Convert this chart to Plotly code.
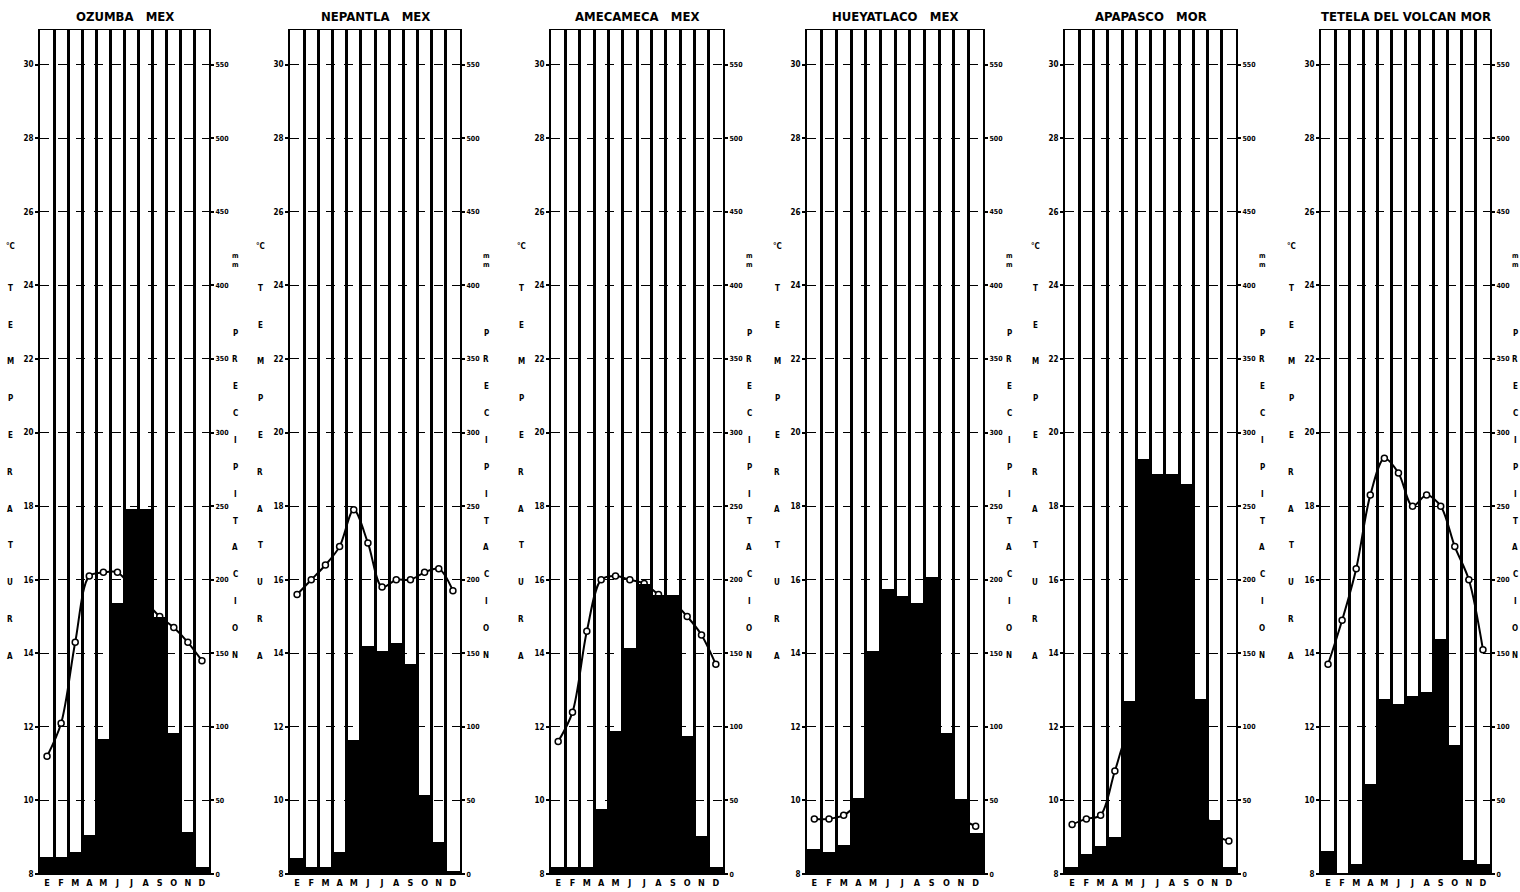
import plotly.graph_objects as go
from plotly.subplots import make_subplots

# ---------------- data ----------------
months = ["E", "F", "M", "A", "M", "J", "J", "A", "S", "O", "N", "D"]

stations = ["OZUMBA\u00a0\u00a0\u00a0MEX", "NEPANTLA\u00a0\u00a0\u00a0MEX", "AMECAMECA\u00a0\u00a0\u00a0MEX",
            "HUEYATLACO\u00a0\u00a0\u00a0MEX", "APAPASCO\u00a0\u00a0\u00a0MOR", "TETELA DEL VOLCAN MOR"]

# monthly precipitation (mm)
precip_ozumba = [12, 12, 15, 27, 92, 184, 248, 248, 175, 96, 29, 5]
precip_nepantla = [11, 5, 5, 15, 91, 155, 152, 157, 143, 54, 22, 2]
precip_amecameca = [5, 5, 5, 44, 97, 154, 197, 190, 190, 94, 26, 5]
precip_hueyatlaco = [17, 15, 20, 52, 152, 194, 189, 184, 202, 96, 51, 28]
precip_apapasco = [5, 14, 19, 25, 118, 282, 272, 272, 265, 119, 37, 5]
precip_tetela = [16, 1, 7, 61, 119, 116, 121, 124, 160, 88, 10, 7]

# monthly mean temperature (°C)
temp_ozumba = [11.2, 12.1, 14.3, 16.1, 16.2, 16.2, 15.8, 15.4, 15.0, 14.7, 14.3, 13.8]
temp_nepantla = [15.6, 16.0, 16.4, 16.9, 17.9, 17.0, 15.8, 16.0, 16.0, 16.2, 16.3, 15.7]
temp_amecameca = [11.6, 12.4, 14.6, 16.0, 16.1, 16.0, 15.9, 15.6, 15.4, 15.0, 14.5, 13.7]
temp_hueyatlaco = [9.5, 9.5, 9.6, 9.9, 10.2, 10.3, 10.2, 10.2, 10.0, 9.8, 9.5, 9.3]
temp_apapasco = [9.35, 9.5, 9.6, 10.8, 11.9, 12.2, 12.0, 11.8, 11.2, 10.2, 9.1, 8.9]
temp_tetela = [13.7, 14.9, 16.3, 18.3, 19.3, 18.9, 18.0, 18.3, 18.0, 16.9, 16.0, 14.1]

precip_ticks = [0, 50, 100, 150, 200, 250, 300, 350, 400, 450, 500, 550]
temp_ticks = [8, 10, 12, 14, 16, 18, 20, 22, 24, 26, 28, 30]

precip_all = [precip_ozumba, precip_nepantla, precip_amecameca,
              precip_hueyatlaco, precip_apapasco, precip_tetela]
temp_all = [temp_ozumba, temp_nepantla, temp_amecameca,
            temp_hueyatlaco, temp_apapasco, temp_tetela]

# ---------------- layout ----------------
W, H = 1520, 892
panel_px = [(40, 209), (290, 460), (551, 723), (807, 983), (1065, 1236), (1321, 1490)]
y_bottom_px, y_top_px = 879, 30
grid_top_px = 65
grid_step_px = (y_bottom_px - grid_top_px) / 11.0
units = (y_bottom_px - y_top_px) / grid_step_px
precip_range = [0, 50 * units]
temp_range = [8, 8 + 2 * units]
ydom = [(H - y_bottom_px) / H, (H - y_top_px) / H]

FONT = "Liberation Sans Narrow, DejaVu Sans Condensed, Arial Narrow, sans-serif"

fig = make_subplots(rows=1, cols=6, specs=[[{"secondary_y": True}] * 6])
x = list(range(12))

for i in range(6):
    c = i + 1
    # temperature curve on the primary axis (drawn first, under the bars)
    fig.add_trace(go.Scatter(x=x, y=temp_all[i], mode="lines+markers",
                             line=dict(color="black", width=2, shape="spline", smoothing=0.9),
                             marker=dict(symbol="circle", size=6, color="white",
                                         line=dict(color="black", width=1.5)),
                             showlegend=False),
                  row=1, col=c, secondary_y=False)
    # precipitation bars on the secondary axis (drawn on top)
    fig.add_trace(go.Bar(x=x, y=precip_all[i], width=1.0,
                         marker=dict(color="black", line=dict(width=0)),
                         showlegend=False, hoverinfo="y"),
                  row=1, col=c, secondary_y=True)

    x0, x1 = panel_px[i]
    fig.update_xaxes(row=1, col=c, domain=[x0 / W, x1 / W], range=[-0.5, 11.5],
                     tickmode="array", tickvals=x, ticktext=["<b>" + m + "</b>" for m in months],
                     ticks="", tickfont=dict(family=FONT, size=9, color="black"),
                     showgrid=False, zeroline=False,
                     showline=True, mirror=True, linecolor="black", linewidth=1,
                     minor=dict(tickmode="array", tickvals=[k - 0.5 for k in range(13)],
                                showgrid=True, gridcolor="black", gridwidth=2.5, ticks=""))
    fig.update_yaxes(row=1, col=c, secondary_y=False, domain=ydom, range=temp_range,
                     side="left", tickmode="array", tickvals=temp_ticks,
                     ticktext=["<b>" + str(v) + "</b>" for v in temp_ticks],
                     ticks="outside", ticklen=3, tickcolor="black", tickwidth=1.5,
                     tickfont=dict(family=FONT, size=8, color="black"),
                     showgrid=True, gridcolor="black", griddash="dash", gridwidth=1.3,
                     zeroline=False, showline=True, linecolor="black", linewidth=2)
    fig.update_yaxes(row=1, col=c, secondary_y=True, domain=ydom, range=precip_range,
                     side="right", tickmode="array", tickvals=precip_ticks,
                     ticktext=["<b>" + str(v) + "</b>" for v in precip_ticks],
                     ticks="outside", ticklen=3, tickcolor="black", tickwidth=1.5,
                     tickfont=dict(family=FONT, size=7, color="black"),
                     showgrid=False, zeroline=False,
                     showline=True, linecolor="black", linewidth=2)

annotations = []


def note(text, xpx, ypx, size):
    annotations.append(dict(text=text, x=xpx / W, y=(H - ypx) / H,
                            xref="paper", yref="paper", xanchor="center", yanchor="middle",
                            showarrow=False, font=dict(family=FONT, size=size, color="black")))


for i in range(6):
    x0, x1 = panel_px[i]
    note("<b>" + stations[i] + "</b>", (x0 + x1) / 2, 17, 13)
    # vertical axis titles (stacked letters)
    xl = x0 - 30
    note("<b>°C</b>", xl, 248, 8)
    for k, ch in enumerate("TEMPERATURA"):
        note("<b>" + ch + "</b>", xl, 290 + k * 37, 8)
    xr = min(x1 + 26, W - 5)
    note("<b>m<br>m</b>", xr, 262, 7)
    for k, ch in enumerate("PRECIPITACION"):
        note("<b>" + ch + "</b>", xr, 335 + k * 27, 8)

fig.update_layout(width=W, height=H, margin=dict(l=0, r=0, t=0, b=0),
                  paper_bgcolor="white", plot_bgcolor="white",
                  bargap=0, annotations=annotations,
                  font=dict(family=FONT, color="black"))

fig.write_html("out.html", config={"displayModeBar": False},
               post_script="document.body.style.margin='0px';"
                           "document.body.style.overflow='hidden';")
